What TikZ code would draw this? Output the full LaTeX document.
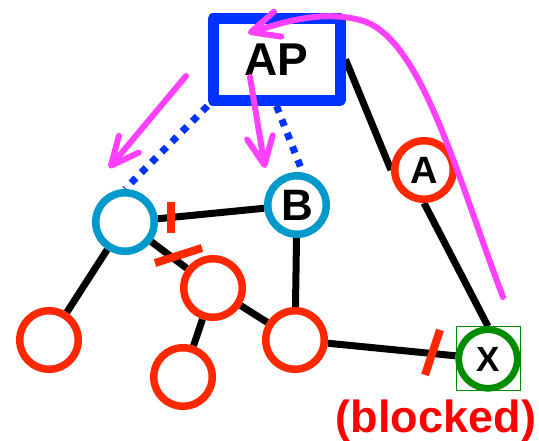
\documentclass[tikz,border=0pt]{standalone}
\usepackage{fontspec}
\setmainfont{Liberation Sans}
\usetikzlibrary{arrows.meta,backgrounds}
\definecolor{apblue}{RGB}{0,51,255}
\definecolor{tealc}{RGB}{0,153,204}
\definecolor{redc}{RGB}{255,40,0}
\definecolor{magc}{RGB}{255,64,255}
\definecolor{greenc}{RGB}{0,140,0}
\begin{document}
\begin{tikzpicture}[x=1pt,y=-1pt,
  ring/.style={circle, draw, line width=7.5pt, fill=white, minimum size=58.5pt, inner sep=0pt,
               font=\bfseries\fontsize{38}{38}\selectfont},
  redring/.style={ring, draw=redc},
  tealring/.style={ring, draw=tealc},
  apbox/.style={rectangle, draw=apblue, line width=11pt, line join=round, fill=white,
                minimum width=127pt, minimum height=82pt, inner sep=0pt,
                font=\bfseries\fontsize{46}{46}\selectfont},
  edgeline/.style={line width=7pt, black},
  tickmark/.style={line width=8pt, redc},
  dotlink/.style={apblue, line width=7pt, dash pattern=on 7pt off 7.5pt},
  magarrow/.style={magc, line width=6pt, line cap=round,
                   -{Straight Barb[length=28pt,width=26pt,round]}}
]
\useasboundingbox (0,0) rectangle (539,441);

% nodes
\node[apbox] (AP) at (276.5,59.5) {AP};
\node[tealring] (L) at (125,222) {};
\node[tealring, font=\bfseries\fontsize{44}{44}\selectfont] (B) at (297,205) {B};
\node[redring] (A) at (424,170) {A};
\node[redring] (M) at (213,288) {};
\node[redring] (LB) at (49,340) {};
\node[redring] (BT) at (183,377) {};
\node[redring] (MR) at (295,340) {};
\node[ring, draw=greenc, line width=6.7pt, font=\bfseries\fontsize{35}{35}\selectfont] (X) at (488,359) {X};
\node[draw=greenc, line width=1pt, minimum size=64pt, inner sep=0pt] (Xbox) at (488,358.5) {};
\node[text=red, font=\bfseries\fontsize{45}{45}\selectfont, anchor=base, inner sep=0pt] (blk) at (436,432) {(blocked)};

% connectors behind nodes
\begin{scope}[on background layer]
  \draw[edgeline] (L) -- (B);
  \draw[edgeline] (L) -- (LB);
  \draw[edgeline] (L) -- (M);
  \draw[edgeline] (M) -- (BT);
  \draw[edgeline] (M) -- (MR);
  \draw[edgeline] (B) -- (MR);
  \draw[edgeline] (MR) -- (X);
  \draw[edgeline] (AP.east) -- (A.west);
  \draw[edgeline] (A.south) -- (X.north);
  \draw[dotlink] (AP.south west) -- (L.north);
  \draw[dotlink] (AP.south) -- (B.80);
\end{scope}

% blocking ticks
\draw[tickmark] (171,202) -- (171,233);
\draw[tickmark] (155,263) -- (202,248);
\draw[tickmark] (440,330) -- (425,375);

% magenta arrows
\coordinate (m1s) at (186,76);
\coordinate (m1e) at (109,168);
\coordinate (m2s) at (250,77);
\coordinate (m2e) at (265,168);
\coordinate (m3s) at (503,297);
\coordinate (m3e) at (248,33);
\draw[magarrow] (m1s) -- (m1e);
\draw[magarrow] (m2s) -- (m2e);
\draw[magarrow] (m3s) .. controls (455,170) and (420,35) .. (360,20)
                      .. controls (320,10) and (285,22) .. (m3e);
\end{tikzpicture}
\end{document}
